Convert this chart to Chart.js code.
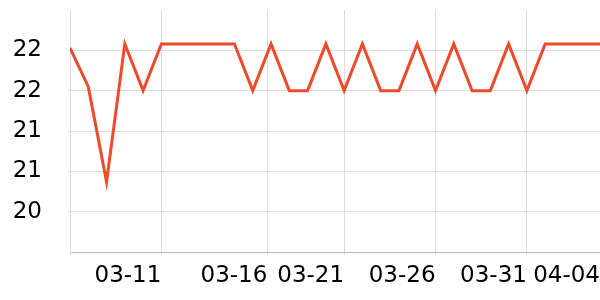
<!DOCTYPE html>
<html>
<head>
<meta charset="utf-8">
<script src="https://cdn.jsdelivr.net/npm/chart.js@4/dist/chart.umd.min.js"></script>
<style>
  html, body { margin: 0; padding: 0; background: #fff; }
  canvas { display: block; }
</style>
</head>
<body>
<canvas id="chart" width="600" height="300"></canvas>
<script>
// one reading per day, 03-06 .. 04-04
const days = ['03-06','03-07','03-08','03-09','03-10','03-11','03-12','03-13','03-14','03-15',
              '03-16','03-17','03-18','03-19','03-20','03-21','03-22','03-23','03-24','03-25',
              '03-26','03-27','03-28','03-29','03-30','03-31','04-01','04-02','04-03','04-04'];
const values = [22.03, 21.55, 20.37, 22.08, 21.5, 22.08, 22.08, 22.08, 22.08, 22.08,
                21.5, 22.08, 21.5, 21.5, 22.08, 21.5, 22.08, 21.5, 21.5, 22.08,
                21.5, 22.08, 21.5, 21.5, 22.08, 21.5, 22.08, 22.08, 22.08, 22.08];
// x ticks (day offset) and their labels
const tickDays = [0, 5, 10.8, 15, 20, 25, 29];
const tickLabels = ['', '03-11', '03-16', '03-21', '03-26', '03-31', '04-04'];
const yTicks = [20, 20.5, 21, 21.5, 22];

const points = values.map((v, i) => ({ x: i, y: v }));

const noPad = (scale) => {
    scale.paddingTop = 0;
    scale.paddingBottom = 0;
    scale.paddingLeft = 0;
    scale.paddingRight = 0;
};

new Chart(document.getElementById('chart').getContext('2d'), {
    type: 'line',
    data: {
        datasets: [{
            label: 'value',
            data: points,
            borderColor: '#ee4b2b',
            borderWidth: 3,
            pointRadius: 0,
            tension: 0,
            fill: false
        }]
    },
    options: {
        responsive: false,
        animation: false,
        layout: { padding: { top: 10, right: 0, left: 0, bottom: 0 } },
        plugins: { legend: { display: false }, tooltip: { enabled: false } },
        scales: {
            x: {
                type: 'linear',
                min: 0,
                max: days.length - 1,
                afterBuildTicks: (scale) => {
                    scale.ticks = tickDays.map(v => ({ value: v }));
                },
                afterFit: (scale) => { scale.height = 48; noPad(scale); },
                grid: { color: '#dddddd', tickLength: 3 },
                border: { color: '#bbbbbb' },
                ticks: {
                    autoSkip: false,
                    maxRotation: 0,
                    align: 'end',
                    padding: 7,
                    color: '#000',
                    font: { family: 'DejaVu Sans', size: 23 },
                    callback: (v, i) => tickLabels[i]
                }
            },
            y: {
                min: 19.5,
                max: 22.5,
                afterBuildTicks: (scale) => {
                    scale.ticks = yTicks.map(v => ({ value: v }));
                },
                afterFit: (scale) => { scale.width = 70; noPad(scale); },
                grid: { color: '#dddddd', tickLength: 2 },
                border: { color: '#dddddd' },
                ticks: {
                    padding: 26,
                    color: '#000',
                    font: { family: 'DejaVu Sans', size: 23 },
                    callback: (v) => Math.round(v)
                }
            }
        }
    }
});
</script>
</body>
</html>
